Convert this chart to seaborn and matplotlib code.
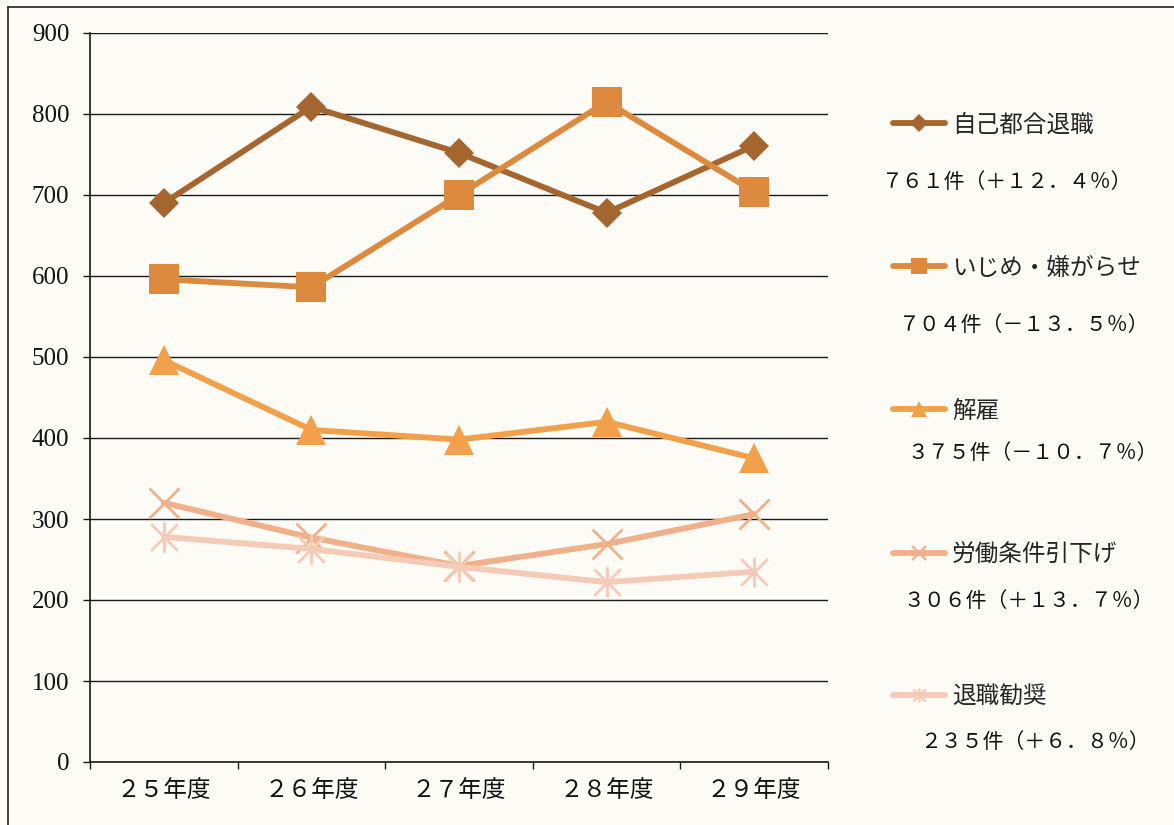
import numpy as np
import pandas as pd
import seaborn as sns
import matplotlib
matplotlib.use("Agg")
import matplotlib.pyplot as plt
from matplotlib.lines import Line2D
from matplotlib.path import Path

# ---- data -------------------------------------------------------------
years = ["２５年度", "２６年度", "２７年度", "２８年度", "２９年度"]

jiko_tsugo = [690, 809, 752, 678, 761]      # 自己都合退職
ijime = [596, 586, 700, 815, 704]           # いじめ・嫌がらせ
kaiko = [496, 410, 398, 420, 375]           # 解雇
rodo_joken = [320, 277, 242, 269, 306]      # 労働条件引下げ
taishoku_kansho = [278, 263, 241, 222, 235] # 退職勧奨

series_names = ["自己都合退職", "いじめ・嫌がらせ", "解雇", "労働条件引下げ", "退職勧奨"]
series_values = [jiko_tsugo, ijime, kaiko, rodo_joken, taishoku_kansho]
summary_labels = [
    "７６１件（＋１２．４％）",
    "７０４件（－１３．５％）",
    "３７５件（－１０．７％）",
    "３０６件（＋１３．７％）",
    "２３５件（＋６．８％）",
]

# ---- style ------------------------------------------------------------
sns.set_theme(style="white")
bg = "#fdfbf6"
plt.rcParams["font.family"] = ["Noto Sans CJK JP", "DejaVu Sans"]
plt.rcParams["axes.unicode_minus"] = False

colors = ["#a5652f", "#de8a3e", "#f2a04a", "#f0b08a", "#f5cab6"]

# Excel-style star marker: an X crossed by a vertical bar
star = Path(
    [(-1, -1), (1, 1), (-1, 1), (1, -1), (0, -1.15), (0, 1.15)],
    [Path.MOVETO, Path.LINETO, Path.MOVETO, Path.LINETO, Path.MOVETO, Path.LINETO],
)
markers = ["D", "s", "^", "x", star]
msizes = [15, 22, 22, 22, 22]
legend_msizes = [9, 11, 11, 10, 10]

fig = plt.figure(figsize=(11.74, 8.25), dpi=100, facecolor=bg)
ax = fig.add_axes([90 / 1174, 63 / 825, 738 / 1174, 729 / 825])
ax.set_facecolor(bg)

df = pd.DataFrame({"年度": years})
handles = []
for name, vals, col, mk, ms, lms in zip(series_names, series_values, colors,
                                          markers, msizes, legend_msizes):
    df[name] = vals
    filled = mk in ("D", "s", "^")
    sns.lineplot(
        data=df, x="年度", y=name, ax=ax, color=col, lw=4.2,
        marker=mk, markersize=ms,
        markerfacecolor=col if filled else "none",
        markeredgecolor=col, markeredgewidth=0 if filled else 2.0,
        legend=False, sort=False, zorder=3,
    )
    handles.append(Line2D([], [], color=col, lw=4.2, marker=mk, markersize=lms,
                          markerfacecolor=col if filled else "none",
                          markeredgecolor=col,
                          markeredgewidth=0 if filled else 1.6))

# ---- axes -------------------------------------------------------------
ax.set_xlim(-0.5, 4.5)
ax.set_ylim(0, 900)
yticks = np.arange(0, 901, 100)
ax.set_yticks(yticks)
ax.set_yticklabels([str(v) for v in yticks])
ax.set_xticks(range(5))
ax.set_xticklabels(years, fontsize=17)
ax.set_xticks(np.arange(-0.5, 4.6, 1), minor=True)
ax.set_xlabel("")
ax.set_ylabel("")

ax.grid(axis="y", color="#1a1a1a", lw=1.0, zorder=1)
ax.grid(axis="x", visible=False)
for side in ("top", "right"):
    ax.spines[side].set_visible(False)
for side in ("left", "bottom"):
    ax.spines[side].set_color("#1a1a1a")
    ax.spines[side].set_linewidth(1.2)

ax.tick_params(axis="y", which="major", direction="out", length=5, width=1.0,
               color="#1a1a1a", pad=10, labelcolor="#111111", left=True)
ax.tick_params(axis="x", which="major", length=0, pad=12, labelcolor="#111111")
ax.tick_params(axis="x", which="minor", direction="out", length=5, width=1.0,
               color="#1a1a1a", bottom=True)

# serif numerals on the value axis
for lbl in ax.get_yticklabels():
    lbl.set_fontfamily(["Liberation Serif", "DejaVu Serif"])
    lbl.set_fontsize(18)

# ---- legend with yearly summary --------------------------------------
legend_y = [125, 268, 411, 555, 697]
summary_y = [182, 325, 453, 601, 742]
summary_x = [882, 899, 907, 903, 920]
for h, name, ly, sl, sy, sx in zip(handles, series_names, legend_y,
                                   summary_labels, summary_y, summary_x):
    fig.legend(handles=[h], labels=[name], loc="center left",
               bbox_to_anchor=(893 / 1174, 1 - ly / 825), frameon=False,
               borderpad=0, borderaxespad=0, handlelength=2.2,
               handletextpad=0.3, prop={"size": 17})
    fig.text(sx / 1174, 1 - sy / 825, sl, fontsize=15, color="#111111",
             va="center", ha="left")

# chart frame
fig.add_artist(Line2D([8 / 1174, 1], [1 - 7 / 825, 1 - 7 / 825],
                      transform=fig.transFigure, color="#222222", lw=1.2))
fig.add_artist(Line2D([8 / 1174, 8 / 1174], [0, 1 - 7 / 825],
                      transform=fig.transFigure, color="#222222", lw=1.2))

fig.savefig("out.png", dpi=100, facecolor=bg)
